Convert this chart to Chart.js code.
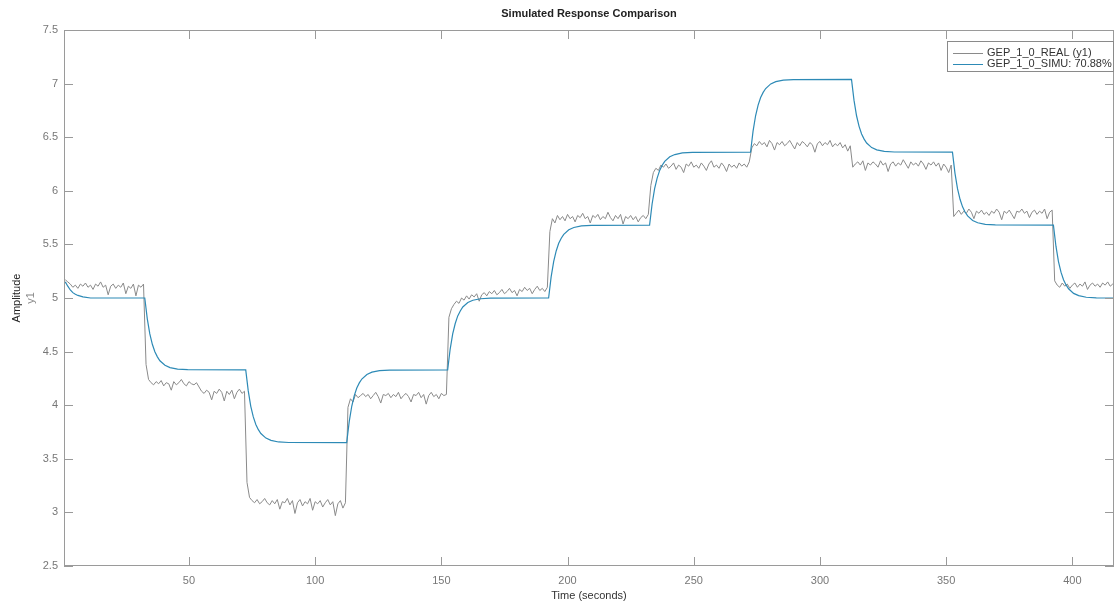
<!DOCTYPE html>
<html>
<head>
<meta charset="utf-8">
<script src="https://cdn.jsdelivr.net/npm/chart.js@4.4.1/dist/chart.umd.min.js"></script>
<style>
  html, body { margin: 0; padding: 0; background: #fff; }
</style>
</head>
<body>
<canvas id="myChart" width="1115" height="604"></canvas>
<script>
const titleText = 'Simulated Response Comparison';
const xTitle = 'Time (seconds)';
const yTitle = 'Amplitude';
const ySubTitle = 'y1';
const realLabel = 'GEP_1_0_REAL (y1)';
const simuLabel = 'GEP_1_0_SIMU: 70.88%';

const xTicks = [50, 100, 150, 200, 250, 300, 350, 400];
const yTicks = [2.5, 3, 3.5, 4, 4.5, 5, 5.5, 6, 6.5, 7, 7.5];

// measured output, one sample per second from t = 1
const realAmp = [
  5.17,5.15,5.13,5.10,5.12,5.09,5.13,5.11,5.14,5.10,5.12,5.08,5.13,5.11,5.15,5.10,5.12,5.03,5.11,5.13,
  5.09,5.12,5.10,5.14,5.04,5.11,5.09,5.13,5.02,5.12,5.10,5.13,
  4.38,4.24,4.21,4.19,4.22,4.20,4.23,4.18,4.21,4.20,4.14,4.22,4.19,4.21,4.24,4.20,4.18,4.22,4.20,4.19,
  4.21,4.17,4.13,4.11,4.14,4.12,4.05,4.13,4.11,4.15,4.12,4.04,4.13,4.10,4.14,4.06,4.12,4.15,4.11,4.13,
  3.28,3.14,3.11,3.09,3.12,3.08,3.10,3.13,3.09,3.07,3.11,3.08,3.12,3.03,3.10,3.09,3.13,3.07,3.11,2.99,
  3.09,3.12,3.06,3.10,3.08,3.13,3.02,3.10,3.08,3.11,3.05,3.09,3.12,3.07,3.10,2.97,3.08,3.11,3.04,3.09,
  3.98,4.06,4.03,4.10,4.07,4.09,4.11,4.08,4.10,4.06,4.09,4.12,4.08,4.02,4.10,4.09,4.11,4.07,4.10,4.08,
  4.12,4.06,4.09,4.11,4.08,4.03,4.10,4.09,4.12,4.07,4.10,4.01,4.09,4.12,4.08,4.10,4.06,4.11,4.09,4.10,
  4.82,4.90,4.94,4.97,4.95,5.00,4.98,5.02,4.99,5.03,5.01,5.04,4.97,5.03,5.05,5.02,5.06,5.04,5.07,5.03,
  5.05,5.08,5.04,5.06,5.09,5.05,5.07,5.02,5.08,5.06,5.10,5.07,5.09,5.04,5.08,5.11,5.07,5.09,5.06,5.10,
  5.62,5.74,5.70,5.77,5.73,5.76,5.72,5.78,5.74,5.76,5.71,5.77,5.75,5.79,5.74,5.76,5.70,5.77,5.75,5.78,
  5.73,5.76,5.74,5.80,5.75,5.72,5.77,5.74,5.78,5.69,5.76,5.74,5.77,5.73,5.76,5.71,5.75,5.77,5.74,5.78,
  6.05,6.17,6.21,6.19,6.24,6.22,6.25,6.21,6.23,6.26,6.20,6.24,6.22,6.17,6.25,6.23,6.27,6.22,6.24,6.21,
  6.26,6.23,6.19,6.25,6.28,6.22,6.24,6.21,6.26,6.23,6.18,6.25,6.22,6.24,6.21,6.26,6.23,6.25,6.22,6.27,
  6.40,6.44,6.42,6.46,6.43,6.45,6.41,6.47,6.44,6.38,6.45,6.43,6.46,6.42,6.44,6.47,6.43,6.39,6.45,6.42,
  6.46,6.44,6.41,6.45,6.43,6.36,6.44,6.46,6.42,6.45,6.43,6.47,6.41,6.44,6.42,6.45,6.40,6.43,6.37,6.42,
  6.22,6.25,6.27,6.24,6.28,6.19,6.26,6.24,6.27,6.25,6.22,6.28,6.24,6.26,6.18,6.25,6.27,6.23,6.26,6.24,
  6.29,6.25,6.21,6.27,6.24,6.26,6.23,6.28,6.25,6.20,6.26,6.24,6.27,6.23,6.26,6.19,6.25,6.22,6.17,6.24,
  5.76,5.79,5.82,5.78,5.81,5.79,5.83,5.80,5.74,5.81,5.79,5.82,5.78,5.80,5.77,5.81,5.79,5.83,5.80,5.73,
  5.81,5.79,5.82,5.78,5.74,5.81,5.80,5.83,5.79,5.81,5.75,5.80,5.82,5.78,5.81,5.79,5.83,5.74,5.80,5.82,
  5.16,5.12,5.10,5.14,5.11,5.13,5.09,5.12,5.14,5.10,5.13,5.11,5.15,5.08,5.12,5.14,5.11,5.13,5.10,5.14,
  5.12,5.15,5.11,5.13,5.12
];

// simulated model output, read at knots along the curve
const simuTime = [
  1, 2, 3, 4, 5, 6, 8, 11,
  32.5, 33.5, 34.5, 35.5, 36.5, 37.5, 38.5, 40.5, 42.5, 45.5, 49.5,
  72.5, 73.5, 74.5, 75.5, 76.5, 77.5, 78.5, 80.5, 82.5, 85.5, 89.5,
  112.5, 113.5, 114.5, 115.5, 116.5, 117.5, 118.5, 120.5, 122.5, 125.5, 129.5,
  152.5, 153.5, 154.5, 155.5, 156.5, 157.5, 158.5, 160.5, 162.5, 165.5, 169.5,
  192.5, 193.5, 194.5, 195.5, 196.5, 197.5, 198.5, 200.5, 202.5, 205.5, 209.5,
  232.5, 233.5, 234.5, 235.5, 236.5, 237.5, 238.5, 240.5, 242.5, 245.5, 249.5,
  272.5, 273.5, 274.5, 275.5, 276.5, 277.5, 278.5, 280.5, 282.5, 285.5, 289.5,
  312.5, 313.5, 314.5, 315.5, 316.5, 317.5, 318.5, 320.5, 322.5, 325.5, 329.5,
  352.5, 353.5, 354.5, 355.5, 356.5, 357.5, 358.5, 360.5, 362.5, 365.5, 369.5,
  392.5, 393.5, 394.5, 395.5, 396.5, 397.5, 398.5, 400.5, 402.5, 405.5, 409.5,
  417
];
const simuAmp = [
  5.15, 5.11, 5.075, 5.05, 5.035, 5.024, 5.01, 5.00,
  5.00, 4.806, 4.665, 4.568, 4.498, 4.451, 4.414, 4.372, 4.351, 4.337, 4.332,
  4.33, 4.133, 3.990, 3.891, 3.820, 3.772, 3.736, 3.693, 3.672, 3.657, 3.652,
  3.65, 3.847, 3.990, 4.089, 4.160, 4.208, 4.244, 4.287, 4.308, 4.323, 4.328,
  4.33, 4.524, 4.665, 4.762, 4.833, 4.879, 4.916, 4.958, 4.979, 4.993, 4.998,
  5.00, 5.197, 5.340, 5.439, 5.510, 5.558, 5.594, 5.637, 5.658, 5.673, 5.678,
  5.68, 5.877, 6.020, 6.119, 6.190, 6.238, 6.274, 6.317, 6.338, 6.353, 6.358,
  6.36, 6.557, 6.700, 6.799, 6.870, 6.918, 6.954, 6.997, 7.018, 7.033, 7.038,
  7.04, 6.843, 6.700, 6.601, 6.530, 6.482, 6.446, 6.403, 6.382, 6.367, 6.362,
  6.36, 6.163, 6.020, 5.921, 5.850, 5.802, 5.766, 5.723, 5.702, 5.687, 5.682,
  5.68, 5.483, 5.340, 5.241, 5.170, 5.122, 5.086, 5.043, 5.022, 5.007, 5.002,
  5.00
];

const realColor = 'rgb(138, 138, 138)';
const simuColor = 'rgb(45, 138, 182)';
const axisColor = '#9a9a9a';
const font = '"Liberation Sans", Arial, Helvetica, sans-serif';

// box, inward ticks, titles and legend the MATLAB way
const matlabDecor = {
  id: 'matlabDecor',
  afterDraw(chart) {
    const { ctx, chartArea: a } = chart;
    const x = chart.scales.x, y = chart.scales.y;
    ctx.save();
    ctx.strokeStyle = axisColor;
    ctx.lineWidth = 1;
    ctx.strokeRect(a.left + 0.5, a.top + 0.5, a.right - a.left - 1, a.bottom - a.top - 1);

    ctx.beginPath();
    for (const v of xTicks) {
      const px = Math.round(x.getPixelForValue(v)) + 0.5;
      ctx.moveTo(px, a.bottom); ctx.lineTo(px, a.bottom - 9);
      ctx.moveTo(px, a.top); ctx.lineTo(px, a.top + 9);
    }
    for (const v of yTicks) {
      const py = Math.round(y.getPixelForValue(v)) + 0.5;
      ctx.moveTo(a.left, py); ctx.lineTo(a.left + 9, py);
      ctx.moveTo(a.right, py); ctx.lineTo(a.right - 9, py);
    }
    ctx.stroke();

    const cx = (a.left + a.right) / 2;
    const cy = (a.top + a.bottom) / 2;
    ctx.textAlign = 'center';
    ctx.textBaseline = 'middle';
    ctx.fillStyle = '#222';
    ctx.font = 'bold 11px ' + font;
    ctx.fillText(titleText, cx, 14);

    ctx.font = '11px ' + font;
    ctx.fillStyle = '#333';
    ctx.fillText(xTitle, cx, 596);

    ctx.save();
    ctx.translate(17, cy);
    ctx.rotate(-Math.PI / 2);
    ctx.fillStyle = '#222';
    ctx.fillText(yTitle, 0, 0);
    ctx.restore();
    ctx.save();
    ctx.translate(31, cy);
    ctx.rotate(-Math.PI / 2);
    ctx.fillStyle = '#888';
    ctx.fillText(ySubTitle, 0, 0);
    ctx.restore();

    // legend
    const bx = 947, by = 41, bw = a.right - 1 - bx, bh = 30;
    ctx.fillStyle = '#fff';
    ctx.fillRect(bx, by, bw, bh);
    ctx.strokeStyle = '#8a8a8a';
    ctx.strokeRect(bx + 0.5, by + 0.5, bw, bh);
    const entries = [[realLabel, realColor, 53], [simuLabel, simuColor, 63.5]];
    ctx.textAlign = 'left';
    for (const [label, color, ly] of entries) {
      ctx.strokeStyle = color;
      ctx.beginPath();
      ctx.moveTo(953, Math.round(ly) + 0.5);
      ctx.lineTo(983, Math.round(ly) + 0.5);
      ctx.stroke();
      ctx.fillStyle = '#333';
      ctx.fillText(label, 987, ly);
    }
    ctx.restore();
  }
};

const data = {
  datasets: [
    {
      label: simuLabel,
      data: simuTime.map((t, i) => ({ x: t, y: simuAmp[i] })),
      borderColor: simuColor,
      borderWidth: 1.2,
      pointRadius: 0,
      tension: 0,
      order: 0
    },
    {
      label: realLabel,
      data: realAmp.map((v, i) => ({ x: i + 1, y: v })),
      borderColor: realColor,
      borderWidth: 1,
      pointRadius: 0,
      tension: 0,
      order: 1
    }
  ]
};

const config = {
  type: 'line',
  data: data,
  options: {
    responsive: false,
    animation: false,
    devicePixelRatio: 1,
    layout: { padding: { top: 30, right: 1, left: 0, bottom: 0 } },
    scales: {
      x: {
        type: 'linear',
        min: 0.5,
        max: 416.5,
        afterFit: (scale) => { scale.height = 38; },
        afterBuildTicks: (scale) => { scale.ticks = xTicks.map(v => ({ value: v })); },
        grid: { display: false, drawTicks: false },
        border: { display: false },
        ticks: {
          padding: 8,
          color: '#777',
          font: { family: font, size: 11 },
          maxRotation: 0
        }
      },
      y: {
        type: 'linear',
        min: 2.5,
        max: 7.5,
        afterFit: (scale) => { scale.width = 64; },
        afterBuildTicks: (scale) => { scale.ticks = yTicks.map(v => ({ value: v })); },
        grid: { display: false, drawTicks: false },
        border: { display: false },
        ticks: {
          padding: 6,
          color: '#777',
          font: { family: font, size: 11 },
          callback: (v) => String(v)
        }
      }
    },
    plugins: {
      legend: { display: false },
      title: { display: false },
      tooltip: { enabled: false }
    }
  },
  plugins: [matlabDecor]
};

new Chart(document.getElementById('myChart'), config);
</script>
</body>
</html>
